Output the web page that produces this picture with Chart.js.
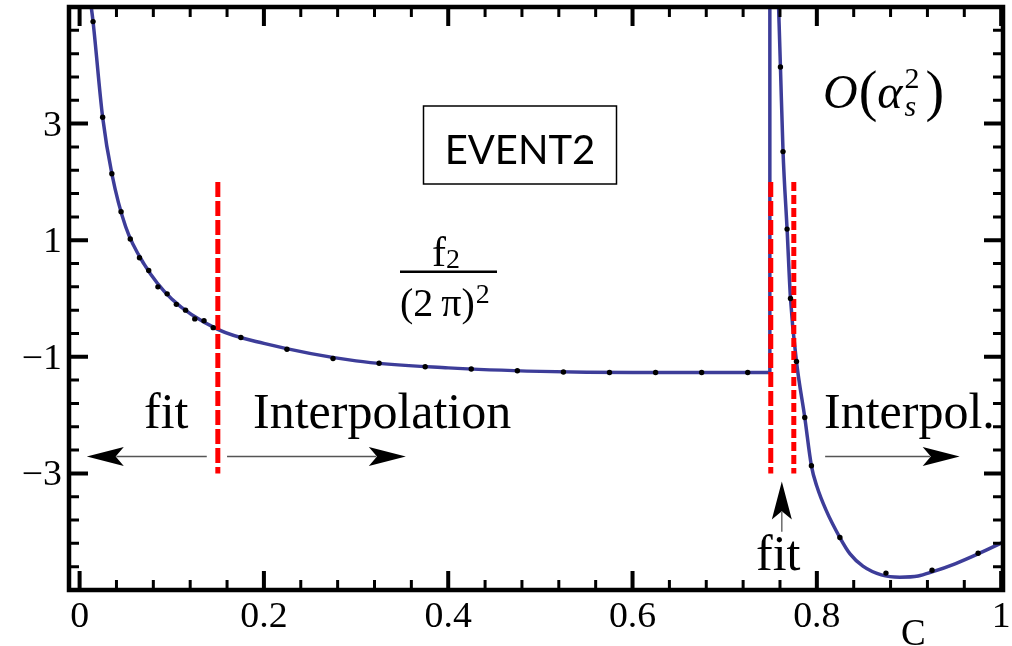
<!DOCTYPE html>
<html>
<head>
<meta charset="utf-8">
<script src="https://cdn.jsdelivr.net/npm/chart.js@4.4.1/dist/chart.umd.min.js"></script>
<style>
  html, body { margin: 0; padding: 0; background: #fff; }
  #wrap { width: 1012px; height: 646px; }
</style>
</head>
<body>
<div id="wrap"><canvas id="chart" width="1012" height="646"></canvas></div>
<script>
// EVENT2 sample points (black dots)
const dotC = [0.0146, 0.025, 0.035, 0.045, 0.055, 0.065, 0.075, 0.085, 0.095, 0.105, 0.115, 0.125, 0.135, 0.145,
              0.175, 0.225, 0.275, 0.325, 0.375, 0.425, 0.475, 0.525, 0.575, 0.625, 0.675, 0.725,
              0.7605, 0.7633, 0.7677, 0.7714, 0.7779, 0.7869, 0.7941, 0.825, 0.875, 0.925, 0.975];
const dotF = [4.75, 3.11, 2.14, 1.49, 1.02, 0.70, 0.48, 0.20, 0.08, -0.10, -0.20, -0.35, -0.38, -0.50,
              -0.67, -0.87, -1.03, -1.11, -1.17, -1.21, -1.24, -1.26, -1.27, -1.27, -1.27, -1.27,
              3.97, 2.52, 1.19, 0.00, -1.08, -2.04, -2.87, -4.10, -4.71, -4.66, -4.37];

// fitted / interpolated curve
const leftC = [0.0118, 0.0146, 0.025, 0.035, 0.05, 0.07, 0.1, 0.15, 0.2, 0.3, 0.4, 0.5, 0.6, 0.7, 0.749];
const leftF = [5.1, 4.75, 3.11, 2.14, 1.23, 0.59, -0.01, -0.53, -0.77, -1.07, -1.19, -1.25, -1.27, -1.27, -1.27];
const jumpC = [0.749, 0.749];
const jumpF = [-1.27, 5.2];
const rightC = [0.7583, 0.7605, 0.7633, 0.7677, 0.7714, 0.7779, 0.7869, 0.7941, 0.80, 0.81, 0.825, 0.836, 0.85, 0.87, 0.89, 0.91, 0.925, 0.95, 0.975, 1.002];
const rightF = [5.1, 3.97, 2.52, 1.19, 0.00, -1.08, -2.04, -2.87, -3.22, -3.63, -4.10, -4.38, -4.59, -4.74, -4.78, -4.76, -4.69, -4.55, -4.38, -4.18];

// boundaries of the fit regions (red dashed)
const cutC = [0.15, 0.75, 0.775];
const cutTop = 2;
const cutBottom = -3;

// tick labels
const xTicks = [0, 0.2, 0.4, 0.6, 0.8, 1];
const yTicks = [-3, -1, 1, 3];

const blue = 'rgb(61,61,153)';
const red = 'rgb(255,0,0)';
const serif = '"Liberation Serif", "Times New Roman", serif';

function pts(xs, ys) {
  return xs.map((x, i) => ({ x: x, y: ys[i] }));
}
const fmtX = v => String(v);
const fmtY = v => (v < 0 ? '\u2212' : '') + Math.abs(v);

const datasets = [
  { data: pts(leftC, leftF), showLine: true, borderColor: blue, borderWidth: 3.5, pointRadius: 0, cubicInterpolationMode: 'monotone', order: 3 },
  { data: pts(jumpC, jumpF), showLine: true, borderColor: blue, borderWidth: 3.5, pointRadius: 0, tension: 0, order: 3 },
  { data: pts(rightC, rightF), showLine: true, borderColor: blue, borderWidth: 3.5, pointRadius: 0, cubicInterpolationMode: 'monotone', order: 3 }
];
cutC.forEach((c, i) => {
  datasets.push({
    data: [{ x: c, y: cutTop }, { x: c, y: cutBottom }],
    showLine: true, borderColor: red, borderWidth: 5, pointRadius: 0,
    borderDash: i === 2 ? [9, 4] : [15, 4], order: 2
  });
});
datasets.push({ data: pts(dotC, dotF), showLine: false, pointRadius: 2.7, pointBackgroundColor: '#000', pointBorderWidth: 0, order: 1 });

function arrow(ctx, x1, y1, x2, y2, len, half) {
  const ang = Math.atan2(y2 - y1, x2 - x1);
  const L = Math.hypot(x2 - x1, y2 - y1);
  ctx.save();
  ctx.translate(x2, y2);
  ctx.rotate(ang);
  ctx.strokeStyle = '#555';
  ctx.lineWidth = 1.3;
  ctx.beginPath();
  ctx.moveTo(-L, 0);
  ctx.lineTo(-len * 0.8, 0);
  ctx.stroke();
  ctx.fillStyle = '#000';
  ctx.beginPath();
  ctx.moveTo(0, 0);
  ctx.lineTo(-len, -half);
  ctx.lineTo(-len * 0.78, 0);
  ctx.lineTo(-len, half);
  ctx.closePath();
  ctx.fill();
  ctx.restore();
}

// draws text pieces left to right, returns end x
function run(ctx, x, base, parts) {
  parts.forEach(p => {
    ctx.font = p.font;
    ctx.fillText(p.t, x + (p.dx || 0), base + (p.dy || 0));
    x += ctx.measureText(p.t).width + (p.dx || 0);
  });
  return x;
}

// tick label, slightly widened like the original
function tickText(ctx, s, x, y) {
  ctx.save();
  ctx.translate(x, y);
  ctx.scale(1.08, 1);
  ctx.fillText(s, 0, 0);
  ctx.restore();
}

const frame = {
  id: 'frame',
  afterDatasetsDraw(chart) {
    const { ctx, chartArea: a } = chart;
    const sx = chart.scales.x, sy = chart.scales.y;
    ctx.save();
    ctx.strokeStyle = '#000';
    ctx.lineCap = 'butt';

    // inward ticks on all four sides
    for (let k = 0; k <= 25; k++) {
      const major = k % 5 === 0;
      const len = major ? 19 : 10;
      ctx.lineWidth = major ? 4 : 3;
      const px = sx.getPixelForValue(k * 0.04);
      ctx.beginPath();
      ctx.moveTo(px, a.bottom); ctx.lineTo(px, a.bottom - len);
      ctx.moveTo(px, a.top); ctx.lineTo(px, a.top + len);
      ctx.stroke();
      if (k > 0 && k < 25) {
        const py = sy.getPixelForValue(-5 + 0.4 * k);
        ctx.beginPath();
        ctx.moveTo(a.left, py); ctx.lineTo(a.left + len, py);
        ctx.moveTo(a.right, py); ctx.lineTo(a.right - len, py);
        ctx.stroke();
      }
    }
    ctx.lineWidth = 4.5;
    ctx.strokeRect(a.left, a.top, a.right - a.left, a.bottom - a.top);

    // tick labels from the scales' own ticks
    ctx.fillStyle = '#000';
    ctx.textBaseline = 'alphabetic';
    ctx.font = '35px ' + serif;
    ctx.textAlign = 'center';
    sx.ticks.forEach(t => tickText(ctx, fmtX(t.value), sx.getPixelForValue(t.value), 627));
    ctx.textAlign = 'right';
    sy.ticks.forEach(t => tickText(ctx, fmtY(t.value), 62, sy.getPixelForValue(t.value) + 12));

    // arrows
    const X = v => sx.getPixelForValue(v), Y = v => sy.getPixelForValue(v);
    arrow(ctx, X(0.138), Y(-2.71), X(0.0078), Y(-2.71), 37, 9.5);
    arrow(ctx, X(0.16), Y(-2.71), X(0.354), Y(-2.71), 37, 9.5);
    arrow(ctx, X(0.809), Y(-2.71), X(0.955), Y(-2.71), 37, 9.5);
    arrow(ctx, X(0.762), Y(-4.0), X(0.762), Y(-3.14), 38, 10);

    // labels
    ctx.textAlign = 'left';
    const big = '50px ' + serif;
    run(ctx, 144, 428, [{ t: 'fit', font: big }]);
    run(ctx, 253, 428, [{ t: 'Interpolation', font: big }]);
    run(ctx, 824, 428, [{ t: 'Interpol.', font: big }]);
    run(ctx, 756, 570, [{ t: 'fit', font: big }]);
    run(ctx, 901, 645, [{ t: 'C', font: '37px ' + serif }]);

    // EVENT2 box
    ctx.lineWidth = 1.5;
    ctx.strokeRect(423.5, 106, 193, 78);
    ctx.font = '40px Lato';
    ctx.textAlign = 'center';
    ctx.fillText('EVENT2', 520, 164);
    ctx.textAlign = 'left';

    // f2 / (2 pi)^2
    run(ctx, 432, 266, [{ t: 'f', font: '42px ' + serif }, { t: '2', font: '28px ' + serif, dy: 2 }]);
    ctx.lineWidth = 2.5;
    ctx.beginPath(); ctx.moveTo(400, 271.7); ctx.lineTo(497, 271.7); ctx.stroke();
    const d = '40px ' + serif;
    run(ctx, 400, 316, [{ t: '(', font: d }, { t: '2', font: d }, { t: '\u2009\u03c0', font: d }, { t: ')', font: d }, { t: '2', font: '28px ' + serif, dx: 1, dy: -13 }]);

    // O(alpha_s^2)
    let xo = run(ctx, 823, 108, [{ t: 'O', font: 'italic 48px ' + serif }]);
    xo = run(ctx, xo + 1, 110, [{ t: '(', font: '56px ' + serif }]);
    xo = run(ctx, xo, 108, [{ t: '\u03b1', font: 'italic 48px ' + serif }]);
    run(ctx, xo + 2, 88, [{ t: '2', font: '30px ' + serif }]);
    const xs = run(ctx, xo + 2, 116, [{ t: 's', font: 'italic 30px ' + serif }]);
    run(ctx, Math.max(xs, xo + 17) + 6, 110, [{ t: ')', font: '56px ' + serif }]);
    ctx.restore();
  }
};

new Chart(document.getElementById('chart'), {
  type: 'scatter',
  data: { datasets: datasets },
  options: {
    responsive: false,
    animation: false,
    events: [],
    layout: { padding: { top: 7, right: 9, left: 0, bottom: 0 } },
    plugins: { legend: { display: false }, tooltip: { enabled: false } },
    scales: {
      x: {
        type: 'linear', min: -0.0115, max: 1.002,
        afterBuildTicks: s => { s.ticks = xTicks.map(v => ({ value: v })); },
        afterFit: s => { s.height = 56; },
        grid: { display: false, drawTicks: false },
        border: { display: false },
        ticks: { display: false, autoSkip: false }
      },
      y: {
        type: 'linear', min: -5, max: 5,
        afterBuildTicks: s => { s.ticks = yTicks.map(v => ({ value: v })); },
        afterFit: s => { s.width = 69; },
        grid: { display: false, drawTicks: false },
        border: { display: false },
        ticks: { display: false, autoSkip: false }
      }
    }
  },
  plugins: [frame]
});
</script>
</body>
</html>
